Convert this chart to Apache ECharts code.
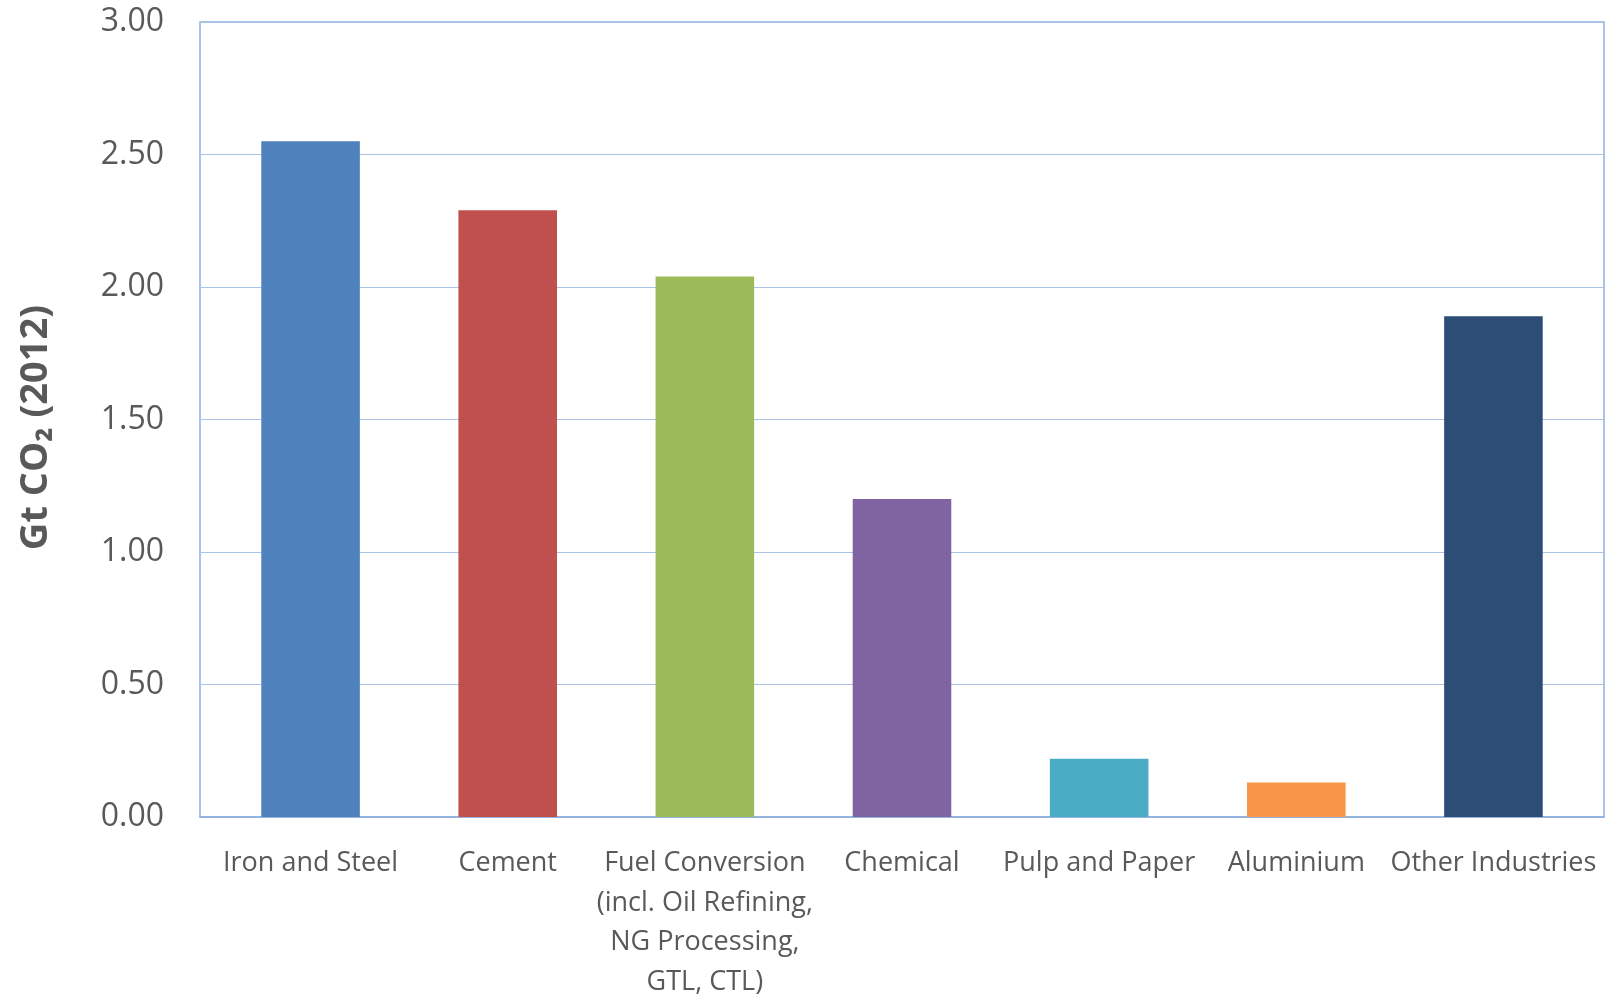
<!DOCTYPE html>
<html>
<head>
<meta charset="utf-8">
<script src="https://cdn.jsdelivr.net/npm/echarts@6/dist/echarts.min.js"></script>
<style>
html, body { margin: 0; padding: 0; background: #fff; }
#chart { width: 1614px; height: 994px; }
</style>
</head>
<body>
<div id="chart"></div>
<script>
// categories and values (Gt CO2, 2012)
var categories = ['Iron and Steel', 'Cement', 'Fuel Conversion\n(incl. Oil Refining,\nNG Processing,\nGTL, CTL)', 'Chemical', 'Pulp and Paper', 'Aluminium', 'Other Industries'];
var values = [2.55, 2.29, 2.04, 1.20, 0.22, 0.13, 1.89];
var barColors = ['#4F81BD', '#C0504D', '#9BBB59', '#8064A2', '#4BACC6', '#F79646', '#2C4D75'];
var yTicks = [0, 0.5, 1.0, 1.5, 2.0, 2.5, 3.0];

var chart = echarts.init(document.getElementById('chart'));

var textColor = '#595959';
var frameColor = '#8EB0DE';

var option = {
    backgroundColor: '#fff',
    animation: false,
    // grid 0: frame + gridlines, grid 1: bars (a bit inset like the original)
    grid: [{
        left: 200,
        right: 10,
        top: 22,
        bottom: 177,
        outerBoundsMode: 'none',
        show: true,
        borderColor: frameColor,
        borderWidth: 1.5
    }, {
        left: 212,
        right: 22,
        top: 22,
        bottom: 177,
        outerBoundsMode: 'none'
    }],
    xAxis: [{
        gridIndex: 0,
        type: 'category',
        data: categories,
        axisLine: { lineStyle: { color: frameColor, width: 1.5 } },
        axisTick: { show: false },
        axisLabel: { show: false }
    }, {
        gridIndex: 1,
        type: 'category',
        data: categories,
        axisLine: { show: false },
        axisTick: { show: false },
        axisLabel: {
            interval: 0,
            color: textColor,
            fontFamily: 'Open Sans',
            fontSize: 27,
            lineHeight: 39.5,
            margin: 27
        }
    }],
    yAxis: [{
        gridIndex: 0,
        type: 'value',
        min: yTicks[0],
        max: yTicks[yTicks.length - 1],
        interval: 0.5,
        name: 'Gt CO\u2082 (2012)',
        nameLocation: 'middle',
        nameGap: 145,
        nameTextStyle: {
            color: textColor,
            fontFamily: 'Open Sans',
            fontWeight: 'bold',
            fontSize: 38,
            padding: [0, 16, 0, 0]
        },
        axisLine: { show: false },
        axisTick: { show: false },
        splitLine: { lineStyle: { color: '#A9C4E6', width: 1.2 } },
        axisLabel: {
            color: textColor,
            fontFamily: 'Open Sans',
            fontSize: 32,
            margin: 36,
            formatter: function (v) { return v.toFixed(2); }
        }
    }, {
        gridIndex: 1,
        type: 'value',
        min: yTicks[0],
        max: yTicks[yTicks.length - 1],
        interval: 0.5,
        show: false
    }],
    series: [{
        type: 'bar',
        xAxisIndex: 1,
        yAxisIndex: 1,
        barWidth: '50%',
        data: values.map(function (v, i) {
            return { value: v, itemStyle: { color: barColors[i] } };
        })
    }]
};

chart.setOption(option);
</script>
</body>
</html>
